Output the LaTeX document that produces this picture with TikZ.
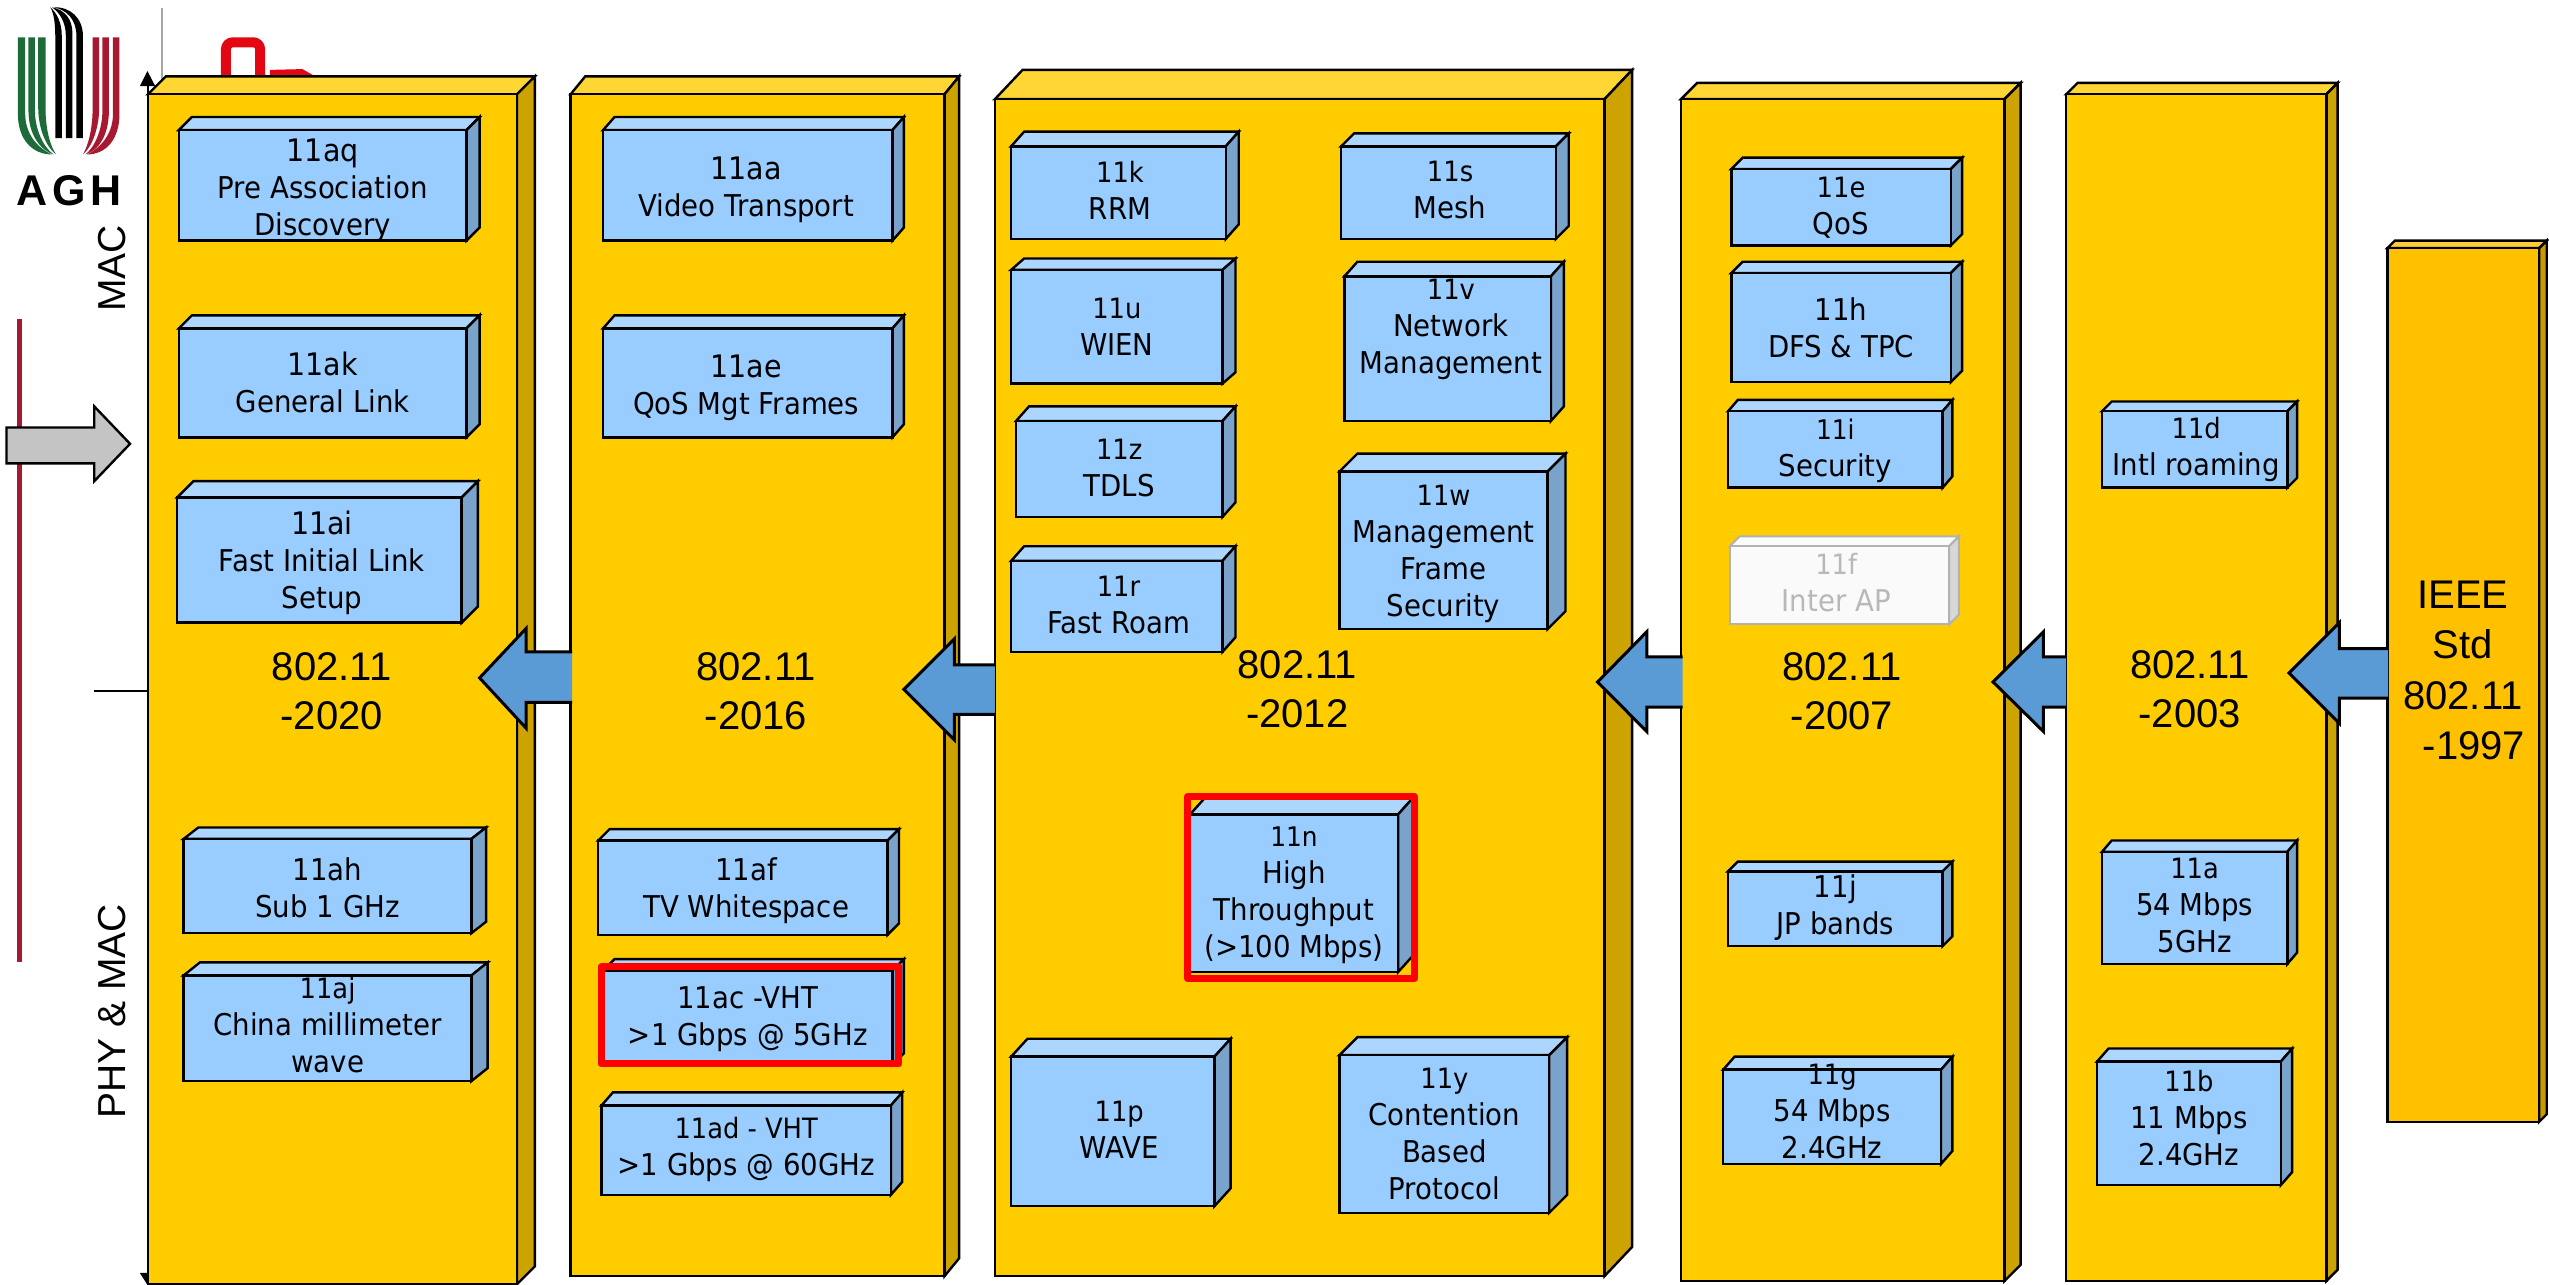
\documentclass[tikz,border=0pt]{standalone}
\usepackage{fontspec}
\setmainfont{Liberation Sans}
\newfontfamily\boxfont[FakeStretch=0.92]{DejaVu Sans}
\definecolor{colfront}{HTML}{FFCC00}
\definecolor{coltop}{HTML}{FFD633}
\definecolor{colside}{HTML}{CCA300}
\definecolor{boxfront}{HTML}{99CCFF}
\definecolor{boxtop}{HTML}{ADD6FF}
\definecolor{boxside}{HTML}{7AA3CC}
\definecolor{ghostfront}{HTML}{FAFAFA}
\definecolor{ghosttop}{HTML}{FBFBFB}
\definecolor{ghostside}{HTML}{D8D8D8}
\definecolor{ghosttext}{HTML}{B8B8B8}
\definecolor{arrowblue}{HTML}{5B9BD5}
\definecolor{ieeefront}{HTML}{FFC000}
\definecolor{ieeetop}{HTML}{FFCC33}
\definecolor{ieeeside}{HTML}{CC9A00}
\definecolor{agred}{HTML}{A71930}
\definecolor{aggreen}{HTML}{1E6B3A}
\definecolor{logored}{HTML}{E30613}
\tikzset{
  px/.style={x=1.6256pt,y=-1.6256pt},
  boxtext/.style={font=\boxfont\fontsize{30}{37}\selectfont,align=center,text=black,inner sep=0pt},
  yeartext/.style={font=\fontsize{40}{49}\selectfont,align=center,inner sep=0pt},
  sidetext/.style={font=\fontsize{39}{47}\selectfont,rotate=90,inner sep=0pt},
  edge3d/.style={draw=black,line width=2.4pt,line join=miter},
  blueArrow/.style={draw=black,line width=3pt,fill=arrowblue,line join=miter},
  redframe/.style={draw=red,line width=7pt,line join=round},
}
\newcommand{\fa}{\fontsize{31}{38.5}\selectfont}
\newcommand{\fb}{\fontsize{30}{37}\selectfont}
\newcommand{\fc}{\fontsize{28}{35.5}\selectfont}
\newcommand{\fd}{\fontsize{27}{35.5}\selectfont}
\newcommand{\tdx}{0}
\newcommand{\tdy}{0}
\newcommand{\off}[2]{\gdef\tdx{#1}\gdef\tdy{#2}}
\newcommand{\prism}[9]{% #1 name, #2 x1, #3 y1, #4 x2, #5 y2, #6 bx, #7 by, #8 colour prefix, #9 text
  \path[edge3d,fill=#8top] (#2,#3) -- (#2+#6-#4,#7) -- (#6,#7) -- (#4,#3) -- cycle;
  \path[edge3d,fill=#8side] (#4,#3) -- (#6,#7) -- (#6,#5+#7-#3) -- (#4,#5) -- cycle;
  \path[edge3d,fill=#8front] (#2,#3) rectangle (#4,#5);
  \coordinate (#1) at ({(#2+#4)/2+\tdx},{(#3+#5)/2+\tdy});
  \node[boxtext] (#1t) at (#1) {#9};
  \gdef\tdx{0}\gdef\tdy{0}%
}
\begin{document}
\begin{tikzpicture}[px]
\useasboundingbox (0,0) rectangle (1568,790.45);
% logo: green stripes
\fill[aggreen] (11,23) -- (15.5,23) -- (15.5,70) .. controls (15.5,84) and (25,92) .. (32,95) .. controls (20,95) and (11,86) .. (11,70) -- cycle;
\fill[aggreen] (17.5,23) -- (21.5,23) -- (21.5,68) .. controls (21.5,80) and (27,91) .. (33,95) .. controls (26,93) and (17.5,84) .. (17.5,68) -- cycle;
\fill[aggreen] (23.5,23) -- (28,23) -- (28,66) .. controls (28,80) and (31,90) .. (34.5,95) .. controls (29,91) and (23.5,80) .. (23.5,66) -- cycle;
% logo: red stripes
\fill[agred] (73.5,23) -- (69.5,23) -- (69.5,70) .. controls (69.5,84) and (60,92) .. (53.5,95) .. controls (65,95) and (73.5,86) .. (73.5,70) -- cycle;
\fill[agred] (67,23) -- (63,23) -- (63,68) .. controls (63,80) and (58,91) .. (52.5,95) .. controls (60,93) and (67,84) .. (67,68) -- cycle;
\fill[agred] (61,23) -- (57,23) -- (57,66) .. controls (57,80) and (54,90) .. (51,95) .. controls (56,91) and (61,80) .. (61,66) -- cycle;
% logo: black stripes
\fill[black] (34,85) -- (38,85) -- (38,22) .. controls (38,14) and (35,8) .. (31,4.5) .. controls (33,8) and (34,14) .. (34,22) -- cycle;
\fill[black] (40.5,85) -- (44.5,85) -- (44.5,20) .. controls (44.5,12) and (40,6) .. (32,4.5) .. controls (37,8) and (40.5,14) .. (40.5,22) -- cycle;
\fill[black] (47,85) -- (51,85) -- (51,22) .. controls (51,11) and (43,4) .. (33,4.5) .. controls (41,6) and (47,12) .. (47,22) -- cycle;
\node[inner sep=0pt,font=\bfseries\fontsize{43}{43}\selectfont] (agh) at (42.5,117.5) {A\hspace{5pt}G\hspace{5pt}H};
\coordinate (gt) at (99.7,5); \coordinate (gb) at (99.7,50);
\draw[line width=2pt,draw=black!35] (gt) -- (gb);
\draw[line width=10pt,draw=logored,rounded corners=7pt] (139,47) -- (139,26) -- (160,26) -- (160,47);
\fill[logored] (166,47) -- (166,43) -- (186,42.5) -- (194,47) -- cycle;
% left decorations
\coordinate (redtop) at (12,196); \coordinate (redbot) at (12,592);
\draw[line width=4.5pt,draw=agred] (redtop) -- (redbot);
\coordinate (axtop) at (91,50); \coordinate (axbot) at (91,785);
\draw[line width=1.5pt] (axtop) -- (axbot);
\fill (86,53) -- (90.7,43.7) -- (95.5,53) -- cycle;
\fill (86,783) -- (90.7,790.4) -- (95.5,783) -- cycle;
\coordinate (hl) at (58,425); \coordinate (hr) at (91,425);
\draw[line width=1.5pt] (hl) -- (hr);
\node[sidetext] (mac) at (69,165) {MAC};
\node[sidetext] (phy) at (69,622) {PHY \& MAC};
\path[draw=black,line width=2.4pt,fill=black!23] (4,263) -- (58,263) -- (58,250) -- (80,273) -- (58,296) -- (58,285) -- (4,285) -- cycle;
% IEEE
\prism{cF}{1468.6}{152.6}{1562}{690}{1566.6}{148}{ieee}{}
\node[yeartext,font=\fontsize{40}{50.5}\selectfont] (ieeelab) at (1515,412.5) {IEEE\\Std\\802.11\\\ \ -1997};
% columns
\prism{cA}{91}{58}{318}{790}{329}{47}{col}{}
\prism{cB}{351}{58}{581}{785}{590}{47}{col}{}
\prism{cC}{612}{61}{987}{785}{1004}{43}{col}{}
\prism{cD}{1034}{61}{1233}{788}{1243}{51}{col}{}
\prism{cE}{1271}{58}{1431}{788}{1438}{51}{col}{}
% arrows
\path[blueArrow] (352,401) -- (323.7,401) -- (323.7,386.5) -- (295,417) -- (323.7,448) -- (323.7,432) -- (352,432);
\path[blueArrow] (612,409) -- (587,409) -- (587,393) -- (556,424) -- (587,455) -- (587,439.5) -- (612,439.5);
\path[blueArrow] (1035,404) -- (1013,404) -- (1013,388.6) -- (982.7,419.5) -- (1013,450) -- (1013,435) -- (1035,435);
\path[blueArrow] (1271,404) -- (1257,404) -- (1257,388.6) -- (1226,419.5) -- (1257,450) -- (1257,435) -- (1271,435);
\path[blueArrow] (1469,399) -- (1439,399) -- (1439,383) -- (1408,414) -- (1439,445) -- (1439,429.5) -- (1469,429.5);
% year labels
\node[yeartext] (yA) at (204,425) {802.11\\-2020};
\node[yeartext] (yB) at (465,425) {802.11\\-2016};
\node[yeartext] (yC) at (798,424) {802.11\\-2012};
\node[yeartext] (yD) at (1133,425) {802.11\\-2007};
\node[yeartext] (yE) at (1347,424) {802.11\\-2003};
% boxes col1
\off{0}{3}\prism{aq}{110}{80}{287}{148}{295}{72}{box}{\fa 11aq\\Pre Association\\Discovery}
\prism{ak}{110}{202}{287}{269}{295}{194}{box}{\fa 11ak\\General Link}
\off{1.5}{2}\prism{ai}{109}{306}{284}{383}{294}{296}{box}{\fa 11ai\\Fast Initial Link\\Setup}
\off{0}{1}\prism{ah}{113}{516}{290}{574}{299}{509}{box}{\fb 11ah\\Sub 1 GHz}
\off{0}{-2}\prism{aj}{113}{600}{290}{665}{300}{592}{box}{\fc 11aj\\China millimeter\\wave}
% col2
\off{-1}{3}\prism{aa}{371}{80}{549}{148}{556}{72}{box}{\fa 11aa\\Video Transport}
\off{-1}{3}\prism{ae}{371}{202}{549}{269}{556}{194}{box}{\fa 11ae\\QoS Mgt Frames}
\off{2}{2}\prism{af}{368}{517}{546}{575}{553}{510}{box}{\fb 11af\\TV Whitespace}
\off{0}{1}\prism{ac}{371}{597}{549}{655}{556}{590}{box}{\fb 11ac -VHT\\>1 Gbps @ 5GHz}
\off{0}{-0.5}\prism{ad}{370}{680}{548}{735}{555}{672}{box}{\fc 11ad - VHT\\>1 Gbps @ 60GHz}
\path[redframe] (369.7,594.8) rectangle (553,654.5);
% col3
\off{1}{-1.5}\prism{k}{622}{90}{754}{147}{762}{81}{box}{\fc 11k\\RRM}
\off{1}{-1.5}\prism{s}{825}{90}{957}{147}{965}{82}{box}{\fc 11s\\Mesh}
\prism{u}{622}{166}{752}{236}{760}{159}{box}{\fc 11u\\WIEN}
\off{2}{-12}\prism{v}{827}{170}{954}{259}{962}{161}{box}{\fc 11v\\Network\\Management}
\off{0}{-0.5}\prism{z}{625}{259}{752}{318}{760}{250}{box}{\fc 11z\\TDLS}
\off{0}{2}\prism{w}{824}{290}{952}{387}{963}{279}{box}{\fc 11w\\Management\\Frame\\Security}
\off{1}{-1}\prism{r}{622}{345}{752}{401}{760}{336}{box}{\fc 11r\\Fast Roam}
\off{0}{1.5}\prism{n}{732}{501}{860}{598}{869}{491}{box}{\fd 11n\\High\\Throughput\\(>100 Mbps)}
\path[redframe] (730.5,490) rectangle (870,602);
\off{4}{-1}\prism{p}{622}{650}{747}{742}{757}{639}{box}{\fc 11p\\WAVE}
\prism{y}{824}{649}{953}{746}{964}{638}{box}{\fc 11y\\Contention\\Based\\Protocol}
% col4
\prism{e}{1065}{104}{1200}{151}{1207}{97}{box}{\fc 11e\\QoS}
\prism{h}{1065}{168}{1200}{235}{1207}{161}{box}{\fb 11h\\DFS \& TPC}
\off{0}{1}\prism{i}{1063}{253}{1195}{300}{1201}{246}{box}{\fd 11i\\Security}
\begin{scope}[edge3d/.style={draw=black!30,line width=2pt},boxtext/.append style={text=ghosttext}]
\off{-2}{-1.5}\prism{f}{1064}{336}{1199}{384}{1205}{330}{ghost}{\fc 11f\\Inter AP}
\end{scope}
\off{0}{-1}\prism{j}{1063}{536}{1195}{582}{1201}{530}{box}{\fb 11j\\JP bands}
\off{0}{-3}\prism{g}{1060}{658}{1194}{716}{1201}{650}{box}{\fc 11g\\54 Mbps\\2.4GHz}
% col5
\off{1}{0}\prism{d}{1293}{253}{1407}{300}{1413}{247}{box}{\fc 11d\\Intl roaming}
\off{0}{-1.5}\prism{a}{1293}{524}{1407}{593}{1413}{517}{box}{\fc 11a\\54 Mbps\\5GHz}
\off{0}{-3}\prism{b}{1290}{653}{1403}{729}{1410}{645}{box}{\fc 11b\\11 Mbps\\2.4GHz}
\end{tikzpicture}
\end{document}
